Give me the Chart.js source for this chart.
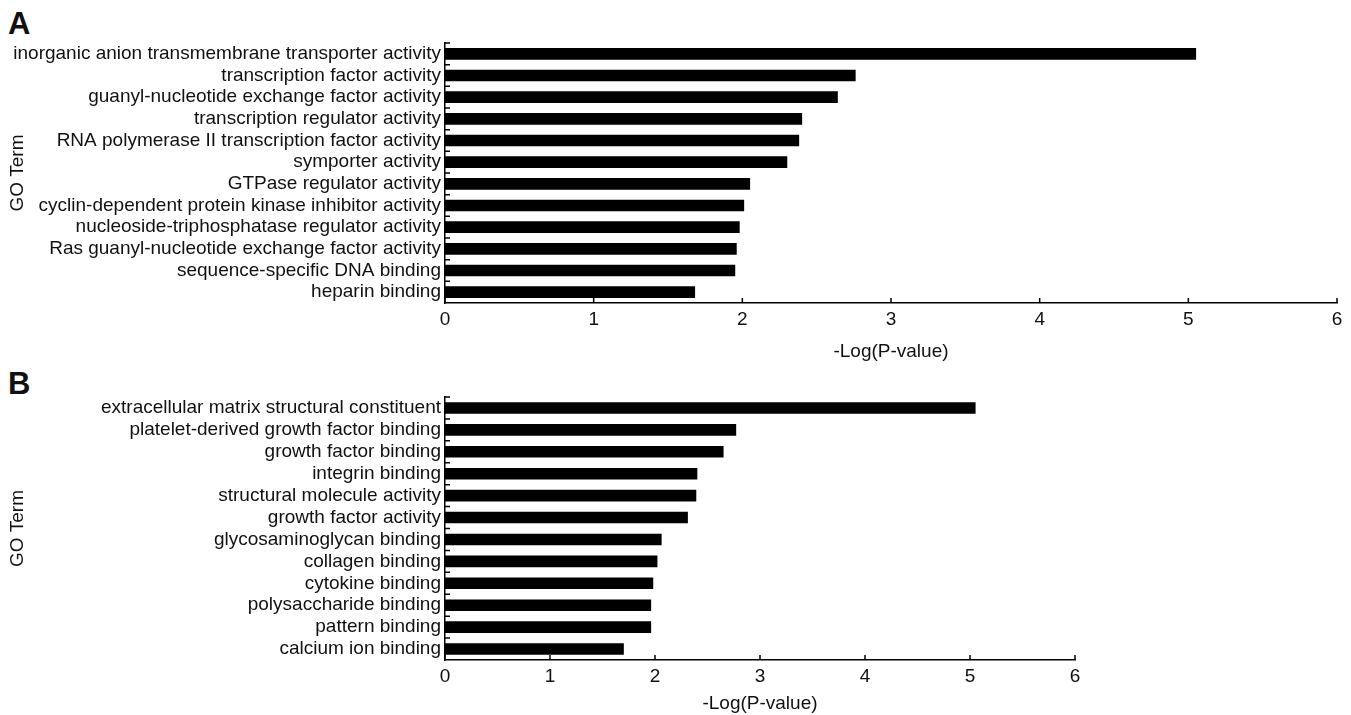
<!DOCTYPE html>
<html>
<head>
<meta charset="utf-8">
<script src="https://cdn.jsdelivr.net/npm/chart.js@4/dist/chart.umd.min.js"></script>
<style>
  body { margin: 0; background: #fff; width: 1351px; height: 715px; overflow: hidden; position: relative; }
  .panel { position: absolute; left: 0; }
  .tag { position: absolute; left: 8px; font: bold 31px "Liberation Sans", Arial, sans-serif; color: #111; line-height: 1; }
</style>
</head>
<body>
<div class="tag" style="top:8px">A</div>
<div class="tag" style="top:368px">B</div>
<div class="panel" style="top:0"><canvas id="chartA" width="1351" height="365"></canvas></div>
<div class="panel" style="top:360px"><canvas id="chartB" width="1351" height="355"></canvas></div>
<script>
"use strict";

// panel A: molecular function terms
var termsA = [
    "inorganic anion transmembrane transporter activity",
    "transcription factor activity",
    "guanyl-nucleotide exchange factor activity",
    "transcription regulator activity",
    "RNA polymerase II transcription factor activity",
    "symporter activity",
    "GTPase regulator activity",
    "cyclin-dependent protein kinase inhibitor activity",
    "nucleoside-triphosphatase regulator activity",
    "Ras guanyl-nucleotide exchange factor activity",
    "sequence-specific DNA binding",
    "heparin binding"
];
var valuesA = [5.05, 2.76, 2.64, 2.40, 2.38, 2.30, 2.05, 2.01, 1.98, 1.96, 1.95, 1.68];

// panel B
var termsB = [
    "extracellular matrix structural constituent",
    "platelet-derived growth factor binding",
    "growth factor binding",
    "integrin binding",
    "structural molecule activity",
    "growth factor activity",
    "glycosaminoglycan binding",
    "collagen binding",
    "cytokine binding",
    "polysaccharide binding",
    "pattern binding",
    "calcium ion binding"
];
var valuesB = [5.05, 2.77, 2.65, 2.40, 2.39, 2.31, 2.06, 2.02, 1.98, 1.96, 1.96, 1.70];

var xTicks = [0, 1, 2, 3, 4, 5, 6];

var FONT = "'Liberation Sans', Arial, sans-serif";
var INK = "#111";

// matlab style inward ticks
var innerTicks = {
    id: "innerTicks",
    afterDraw: function(chart) {
        var ctx = chart.ctx, x = chart.scales.x, y = chart.scales.y;
        var area = chart.chartArea;
        ctx.save();
        ctx.strokeStyle = "#000";
        ctx.lineWidth = 1.5;
        ctx.beginPath();
        xTicks.forEach(function(v) {
            var px = x.getPixelForValue(v);
            ctx.moveTo(px, area.bottom);
            ctx.lineTo(px, area.bottom - 5);
        });
        var n = chart.data.labels.length;
        for (var i = 0; i < n; i++) {
            var py = y.getPixelForValue(i - 0.5);
            ctx.moveTo(area.left, py);
            ctx.lineTo(area.left + 5, py);
        }
        ctx.stroke();
        ctx.restore();
    }
};

function makeChart(id, terms, values, opts) {
    return new Chart(document.getElementById(id), {
        type: "bar",
        data: {
            labels: terms,
            datasets: [{
                data: values,
                backgroundColor: "#000",
                borderWidth: 0,
                barThickness: 11
            }]
        },
        plugins: [innerTicks],
        options: {
            indexAxis: "y",
            responsive: false,
            animation: false,
            layout: { padding: { top: opts.top, right: opts.right, left: 0, bottom: 0 } },
            plugins: { legend: { display: false }, tooltip: { enabled: false } },
            scales: {
                x: {
                    type: "linear",
                    min: 0,
                    max: 6,
                    afterBuildTicks: function(s) { s.ticks = xTicks.map(function(v) { return { value: v }; }); },
                    afterFit: function(s) { s.height = opts.xHeight; },
                    grid: { display: false, drawTicks: false },
                    border: { display: true, color: "#000", width: 1.5 },
                    ticks: { color: INK, font: { family: FONT, size: 19 }, padding: 5, maxRotation: 0 },
                    title: {
                        display: true,
                        text: "-Log(P-value)",
                        color: INK,
                        font: { family: FONT, size: 19 },
                        padding: { top: 0, bottom: opts.titlePad }
                    }
                },
                y: {
                    afterFit: function(s) { s.width = 445; },
                    grid: { display: false, drawTicks: false },
                    border: { display: true, color: "#000", width: 1.5 },
                    ticks: { color: INK, font: { family: FONT, size: 19 }, padding: 4, autoSkip: false },
                    title: {
                        display: true,
                        text: "GO Term",
                        color: INK,
                        font: { family: FONT, size: 19 },
                        padding: { top: 6, bottom: 0 }
                    }
                }
            }
        }
    });
}

makeChart("chartA", termsA, valuesA, { top: 43, right: 14, xHeight: 62, titlePad: 2 });
makeChart("chartB", termsB, valuesB, { top: 37, right: 276, xHeight: 55, titlePad: 0 });
</script>
</body>
</html>
